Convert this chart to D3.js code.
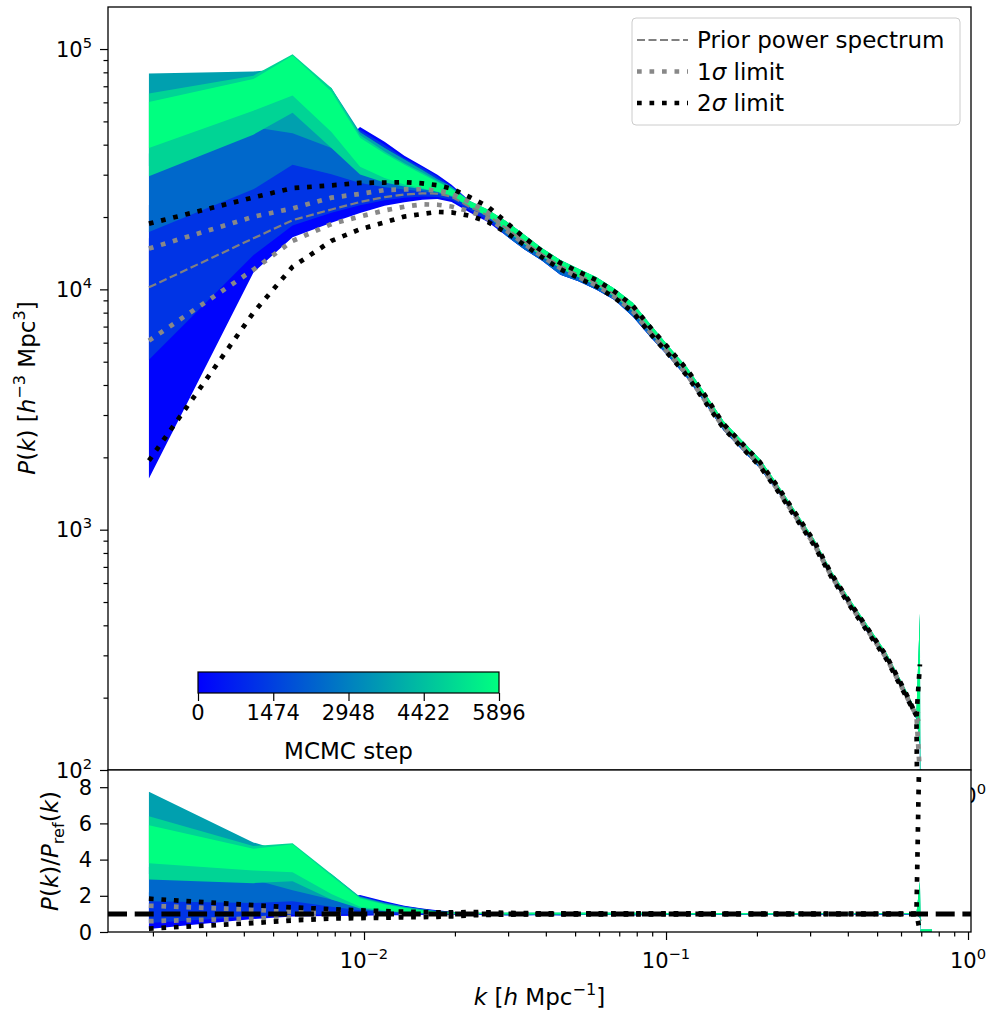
<!DOCTYPE html>
<html>
<head>
<meta charset="utf-8">
<script src="https://cdn.jsdelivr.net/npm/d3@7"></script>
<style>
  body { margin: 0; background: #fff; }
  svg text { font-family: "DejaVu Sans", sans-serif; fill: #000; }
</style>
</head>
<body>
<svg id="chart" width="987" height="1013"></svg>
<script>
// k bins [h/Mpc]
const kBins = [0.00194, 0.0043, 0.0058, 0.0078, 0.0097, 0.0117, 0.0136, 0.0156, 0.0175, 0.0195,
  0.0224, 0.0257, 0.0295, 0.0339, 0.0389, 0.0447, 0.0513, 0.0589, 0.0676, 0.0776,
  0.0891, 0.1023, 0.1175, 0.1349, 0.1549, 0.1778, 0.2042, 0.2344, 0.2692, 0.309,
  0.3548, 0.4074, 0.4677, 0.537, 0.6166, 0.675, 0.693, 0.697, 0.76];

// prior / reference power spectrum
const pRef = [10200, 16300, 19400, 21500, 23100, 24200, 24800, 25100, 25000, 24300,
  22000, 20300, 18000, 15800, 14000, 12500, 11500, 10600, 9500, 8300,
  6700, 5500, 4500, 3500, 2700, 2250, 1880, 1480, 1140, 880,
  640, 490, 380, 295, 212, 168, 160, 150, 140];

// 1 and 2 sigma limits, as ratio to the prior
const sig1Lo = [0.60, 0.74, 0.82, 0.87, 0.87, 0.88, 0.89, 0.90, 0.90, 0.91, 0.96, 0.97,
  0.98, 0.98, 0.98, 0.98, 0.98, 0.98, 0.98, 0.98, 0.98, 0.98, 0.98, 0.98,
  0.99, 0.99, 0.99, 0.99, 0.99, 0.99, 0.99, 0.99, 0.99, 0.99, 0.99, 1.0, 0.6, null, null];
const sig1Hi = [1.45, 1.23, 1.12, 1.12, 1.08, 1.07, 1.05, 1.04, 1.03, 1.03, 1.05, 1.03,
  1.02, 1.02, 1.02, 1.02, 1.02, 1.02, 1.02, 1.02, 1.02, 1.02, 1.02, 1.02,
  1.01, 1.01, 1.01, 1.01, 1.01, 1.01, 1.01, 1.01, 1.01, 1.01, 1.01, 1.0, 1.15, null, null];
const sig2Lo = [0.19, 0.49, 0.64, 0.74, 0.77, 0.785, 0.81, 0.82, 0.84, 0.86, 0.92, 0.94,
  0.96, 0.97, 0.97, 0.97, 0.97, 0.97, 0.97, 0.97, 0.97, 0.97, 0.97, 0.97,
  0.98, 0.98, 0.98, 0.98, 0.98, 0.98, 0.98, 0.98, 0.98, 0.98, 0.98, 1.0, 0.02, null, null];
const sig2Hi = [1.84, 1.48, 1.36, 1.26, 1.20, 1.15, 1.125, 1.10, 1.085, 1.08, 1.10, 1.09,
  1.06, 1.04, 1.03, 1.03, 1.03, 1.03, 1.03, 1.03, 1.03, 1.03, 1.03, 1.03,
  1.02, 1.02, 1.02, 1.02, 1.02, 1.02, 1.01, 1.01, 1.01, 1.01, 1.01, 1.0, 1.72, null, null];
// the ratio panel's upper 2 sigma limit shoots off the top at the spike bin
const sig2HiRatio = [1.84, 1.48, 1.36, 1.26, 1.20, 1.15, 1.125, 1.10, 1.085, 1.08, 1.10, 1.09,
  1.06, 1.04, 1.03, 1.03, 1.03, 1.03, 1.03, 1.03, 1.03, 1.03, 1.03, 1.03,
  1.02, 1.02, 1.02, 1.02, 1.02, 1.02, 1.01, 1.01, 1.01, 1.01, 1.01, 1.0, 12, null, null];

// MCMC samples, grouped by step; low-k envelopes (bins 0..11) as ratio to the prior
const stepGroups = [100, 1200, 2400, 3700, 4900, 5896];
const bandLo = [
  [0.16, 0.72, 0.85, 0.88, 0.90, 0.92, 0.93, 0.94, 0.95, 0.95, 0.95, 0.94],
  [0.50, 0.85, 0.95, 0.97, 0.97, 0.97, 0.97, 0.97, 0.97, 0.97, 0.97, 0.96],
  [1.70, 1.60, 1.70, 1.40, 1.20, 1.10, 1.05, 1.02, 1.00, 1.00, 1.00, 1.00],
  [3.20, 2.90, 2.30, 1.80, 1.40, 1.20, 1.10, 1.05, 1.02, 1.00, 1.00, 1.00],
  [2.90, 2.70, 2.80, 1.80, 1.30, 1.15, 1.08, 1.04, 1.02, 1.01, 1.00, 0.99],
  [3.80, 3.40, 3.30, 2.10, 1.40, 1.20, 1.10, 1.05, 1.02, 1.01, 1.00, 0.99],
];
const bandHi = [
  [1.60, 1.70, 1.70, 1.70, 2.05, 1.70, 1.45, 1.30, 1.20, 1.12, 1.06, 1.03],
  [2.20, 2.30, 2.20, 2.00, 2.00, 1.65, 1.42, 1.28, 1.18, 1.10, 1.05, 1.03],
  [3.60, 3.20, 2.90, 2.40, 1.95, 1.60, 1.40, 1.25, 1.15, 1.10, 1.05, 1.04],
  [7.75, 4.95, 4.30, 3.20, 1.95, 1.60, 1.40, 1.25, 1.15, 1.10, 1.06, 1.05],
  [6.40, 4.75, 4.90, 3.20, 1.90, 1.55, 1.35, 1.22, 1.13, 1.08, 1.06, 1.06],
  [5.90, 4.60, 4.85, 3.10, 1.85, 1.52, 1.33, 1.20, 1.12, 1.08, 1.06, 1.06],
];
// high-k envelopes (bins 12..38)
const blueTailLo = [0.93, 0.93, 0.94, 0.92, 0.94, 0.94, 0.95, 0.93, 0.94, 0.95, 0.95,
  0.96, 0.96, 0.96, 0.96, 0.97, 0.97, 0.97, 0.97, 0.97, 0.97, 0.97, 0.97, 0.97, 0.8, 0.03, 0.03];
const blueTailHi = [1.02, 1.02, 1.01, 1.01, 1.01, 1.01, 1.01, 1.01, 1.01, 1.01, 1.01,
  1.01, 1.01, 1.01, 1.01, 1.01, 1.01, 1.01, 1.01, 1.01, 1.01, 1.01, 1.01, 1.01, 1.3, 0.08, 0.08];
const greenTailLo = [0.98, 0.98, 0.98, 0.98, 0.98, 0.98, 0.98, 0.98, 0.98, 0.98, 0.98,
  0.98, 0.98, 0.98, 0.98, 0.98, 0.98, 0.99, 0.99, 0.99, 0.99, 0.99, 0.99, 0.98, 0.8, 0.03, 0.03];
const greenTailHi = [1.07, 1.07, 1.06, 1.06, 1.06, 1.06, 1.06, 1.06, 1.06, 1.05, 1.05,
  1.05, 1.05, 1.05, 1.05, 1.04, 1.04, 1.04, 1.04, 1.04, 1.04, 1.04, 1.04, 1.04, 2.8, 0.14, 0.14];

const cbarTicks = [0, 1474, 2948, 4422, 5896];
const xMajor = [0.01, 0.1, 1];
const xMinor = [0.002, 0.003, 0.004, 0.005, 0.006, 0.007, 0.008, 0.009,
  0.02, 0.03, 0.04, 0.05, 0.06, 0.07, 0.08, 0.09, 0.2, 0.3, 0.4, 0.5, 0.6, 0.7, 0.8, 0.9];
const yMajor = [100, 1000, 10000, 100000];
const yMinor = [200, 300, 400, 500, 600, 700, 800, 900, 2000, 3000, 4000, 5000, 6000, 7000,
  8000, 9000, 20000, 30000, 40000, 50000, 60000, 70000, 80000, 90000];
const ratioTicks = [0, 2, 4, 6, 8];

const svg = d3.select("#chart");
const left = 108, right = 971;
const top0 = 7, top1 = 770, bot0 = 770, bot1 = 932;
const stepMax = 5896;
const tickFont = 21, labelFont = 23;
const winter = d3.interpolateRgb("#0000ff", "#00ff80");

const x = d3.scaleLog().domain([0.00142, 1.023]).range([left, right]);
const yTop = d3.scaleLog().domain([100, 149600]).range([top1, top0]);
const yBot = d3.scaleLinear().domain([0, 8.95]).range([bot1, bot0]);

const styles = {
  prior: { stroke: "#808080", width: 2.2, dash: "8,3.5" },
  sig1: { stroke: "#888888", width: 4.7, dash: "4.7,7.8" },
  sig2: { stroke: "#000000", width: 4.7, dash: "4.7,7.8" },
};

function mathText(sel, parts, fs) {
  let shift = 0;
  for (const [txt, kind] of parts) {
    const t = sel.append("tspan").text(txt);
    let target = 0;
    if (kind === "sup") target = -0.42 * fs;
    if (kind === "sub") target = 0.25 * fs;
    if (kind === "sup" || kind === "sub") t.attr("font-size", 0.7 * fs);
    if (kind === "i") t.attr("font-style", "italic");
    if (target !== shift) t.attr("dy", target - shift);
    shift = target;
  }
}

function powLabel(g, px, py, exp, anchor) {
  const t = g.append("text").attr("x", px).attr("y", py)
    .attr("text-anchor", anchor).attr("font-size", tickFont);
  mathText(t, [["10", ""], [exp < 0 ? `\u2212${-exp}` : `${exp}`, "sup"]], tickFont);
}

const bands = stepGroups.map((step, g) => {
  const early = step < 3000;
  const lo = bandLo[g].concat(early ? blueTailLo : greenTailLo);
  const hi = bandHi[g].concat(early ? blueTailHi : greenTailHi);
  return {
    step,
    rows: kBins.map((k, i) => ({ k, ref: pRef[i], lo: lo[i], hi: hi[i] })),
  };
});

function limitRows(arr) {
  return kBins.map((k, i) => ({ k, ref: pRef[i], r: arr[i] }));
}

const defs = svg.append("defs");
defs.append("clipPath").attr("id", "clipTop").append("rect")
  .attr("x", left).attr("y", top0).attr("width", right - left).attr("height", top1 - top0);
defs.append("clipPath").attr("id", "clipBot").append("rect")
  .attr("x", left).attr("y", bot0).attr("width", right - left).attr("height", bot1 - bot0);

// ---------- top panel ----------
const topPlot = svg.append("g").attr("clip-path", "url(#clipTop)");

const areaTop = d3.area()
  .x((d) => x(d.k))
  .y0((d) => yTop(d.ref * d.lo))
  .y1((d) => yTop(d.ref * d.hi));

topPlot.selectAll("path.band")
  .data(bands)
  .join("path")
  .attr("class", "band")
  .attr("d", (d) => areaTop(d.rows))
  .attr("fill", (d) => winter(d.step / stepMax));

const lineTop = d3.line()
  .defined((d) => d.r != null)
  .x((d) => x(d.k))
  .y((d) => yTop(d.ref * d.r));

const priorRows = kBins.slice(0, 37).map((k, i) => ({ k, ref: pRef[i], r: 1 }));
const topLines = [
  { rows: priorRows, s: styles.prior },
  { rows: limitRows(sig1Lo), s: styles.sig1 },
  { rows: limitRows(sig1Hi), s: styles.sig1 },
  { rows: limitRows(sig2Lo), s: styles.sig2 },
  { rows: limitRows(sig2Hi), s: styles.sig2 },
];
topPlot.selectAll("path.lim")
  .data(topLines)
  .join("path")
  .attr("class", "lim")
  .attr("d", (d) => lineTop(d.rows))
  .attr("fill", "none")
  .attr("stroke", (d) => d.s.stroke)
  .attr("stroke-width", (d) => d.s.width)
  .attr("stroke-dasharray", (d) => d.s.dash);

// top axes
svg.append("g").attr("transform", `translate(${left},0)`)
  .call(d3.axisLeft(yTop).tickValues(yMajor).tickSize(8).tickFormat(""))
  .call((g) => g.select(".domain").remove());
svg.append("g").attr("transform", `translate(${left},0)`)
  .call(d3.axisLeft(yTop).tickValues(yMinor).tickSize(4.5).tickFormat(""))
  .call((g) => g.select(".domain").remove());
const topLabels = svg.append("g");
yMajor.forEach((v) => powLabel(topLabels, 92, yTop(v) + 7.5, Math.round(Math.log10(v)), "end"));

// top panel x ticks (mostly hidden under the ratio panel)
svg.append("g").attr("transform", `translate(0,${top1})`)
  .call(d3.axisBottom(x).tickValues(xMajor).tickSize(8).tickFormat(""))
  .call((g) => g.select(".domain").remove());
xMajor.forEach((v) => powLabel(topLabels, x(v), top1 + 33, Math.round(Math.log10(v)), "middle"));

svg.append("rect").attr("x", left).attr("y", top0)
  .attr("width", right - left).attr("height", top1 - top0)
  .attr("fill", "none").attr("stroke", "#000").attr("stroke-width", 1.3);

// legend
const legendItems = [
  { parts: [["Prior power spectrum", ""]], s: styles.prior },
  { parts: [["1", ""], ["\u03c3", "i"], [" limit", ""]], s: styles.sig1 },
  { parts: [["2", ""], ["\u03c3", "i"], [" limit", ""]], s: styles.sig2 },
];
const legend = svg.append("g");
legend.append("rect").attr("x", 632).attr("y", 18).attr("width", 328).attr("height", 107)
  .attr("rx", 4).attr("fill", "#fff").attr("fill-opacity", 0.8)
  .attr("stroke", "#cccccc").attr("stroke-width", 1);
legendItems.forEach((item, i) => {
  const cy = 40 + i * 31.5;
  legend.append("line").attr("x1", 637).attr("x2", 688).attr("y1", cy).attr("y2", cy)
    .attr("stroke", item.s.stroke).attr("stroke-width", item.s.width)
    .attr("stroke-dasharray", item.s.dash);
  const t = legend.append("text").attr("x", 697).attr("y", cy + 8).attr("font-size", labelFont);
  mathText(t, item.parts, labelFont);
});

// colour bar
const cb = { x0: 198, x1: 499, y0: 672, y1: 693 };
const grad = defs.append("linearGradient").attr("id", "winterGrad");
d3.range(0, 1.01, 0.1).forEach((t) => {
  grad.append("stop").attr("offset", `${t * 100}%`).attr("stop-color", winter(t));
});
const cbScale = d3.scaleLinear().domain([0, stepMax]).range([cb.x0, cb.x1]);
svg.append("rect").attr("x", cb.x0).attr("y", cb.y0)
  .attr("width", cb.x1 - cb.x0).attr("height", cb.y1 - cb.y0)
  .attr("fill", "url(#winterGrad)").attr("stroke", "#000").attr("stroke-width", 1.2);
svg.append("g").attr("transform", `translate(0,${cb.y1})`)
  .call(d3.axisBottom(cbScale).tickValues(cbarTicks).tickSize(8).tickFormat(""))
  .call((g) => g.select(".domain").remove());
cbarTicks.forEach((v) => {
  svg.append("text").attr("x", cbScale(v)).attr("y", 720)
    .attr("text-anchor", "middle").attr("font-size", tickFont).text(v);
});
svg.append("text").attr("x", (cb.x0 + cb.x1) / 2).attr("y", 759)
  .attr("text-anchor", "middle").attr("font-size", labelFont).text("MCMC step");

// ---------- ratio panel ----------
svg.append("rect").attr("x", left).attr("y", bot0)
  .attr("width", right - left).attr("height", bot1 - bot0).attr("fill", "#fff");
const botPlot = svg.append("g").attr("clip-path", "url(#clipBot)");

const areaBot = d3.area()
  .x((d) => x(d.k))
  .y0((d) => yBot(d.lo))
  .y1((d) => yBot(d.hi));
botPlot.selectAll("path.band")
  .data(bands)
  .join("path")
  .attr("class", "band")
  .attr("d", (d) => areaBot(d.rows))
  .attr("fill", (d) => winter(d.step / stepMax));

const lineBot = d3.line()
  .defined((d) => d.r != null)
  .x((d) => x(d.k))
  .y((d) => yBot(d.r));
const botLines = [
  { rows: limitRows(sig1Lo), s: styles.sig1 },
  { rows: limitRows(sig1Hi), s: styles.sig1 },
  { rows: limitRows(sig2Lo), s: styles.sig2 },
  { rows: limitRows(sig2HiRatio), s: styles.sig2 },
];
botPlot.selectAll("path.lim")
  .data(botLines)
  .join("path")
  .attr("class", "lim")
  .attr("d", (d) => lineBot(d.rows))
  .attr("fill", "none")
  .attr("stroke", (d) => d.s.stroke)
  .attr("stroke-width", (d) => d.s.width)
  .attr("stroke-dasharray", (d) => d.s.dash);

botPlot.append("line")
  .attr("x1", left).attr("x2", right).attr("y1", yBot(1)).attr("y2", yBot(1))
  .attr("stroke", "#000").attr("stroke-width", 5).attr("stroke-dasharray", "19,7.7");

svg.append("g").attr("transform", `translate(${left},0)`)
  .call(d3.axisLeft(yBot).tickValues(ratioTicks).tickSize(8).tickFormat(""))
  .call((g) => g.select(".domain").remove());
ratioTicks.forEach((v) => {
  svg.append("text").attr("x", 92).attr("y", yBot(v) + 7.5)
    .attr("text-anchor", "end").attr("font-size", tickFont).text(v);
});
svg.append("g").attr("transform", `translate(0,${bot1})`)
  .call(d3.axisBottom(x).tickValues(xMajor).tickSize(8).tickFormat(""))
  .call((g) => g.select(".domain").remove());
svg.append("g").attr("transform", `translate(0,${bot1})`)
  .call(d3.axisBottom(x).tickValues(xMinor).tickSize(4.5).tickFormat(""))
  .call((g) => g.select(".domain").remove());
const botLabels = svg.append("g");
xMajor.forEach((v) => powLabel(botLabels, x(v), bot1 + 36, Math.round(Math.log10(v)), "middle"));

svg.append("rect").attr("x", left).attr("y", bot0)
  .attr("width", right - left).attr("height", bot1 - bot0)
  .attr("fill", "none").attr("stroke", "#000").attr("stroke-width", 1.3);

svg.selectAll(".tick line").attr("stroke", "#000").attr("stroke-width", 1.2);

// axis titles
const yTitle = svg.append("text").attr("transform", "translate(35,388) rotate(-90)")
  .attr("text-anchor", "middle").attr("font-size", labelFont);
mathText(yTitle, [["P", "i"], ["(", ""], ["k", "i"], [") [", ""], ["h", "i"], ["\u22123", "sup"],
  [" Mpc", ""], ["3", "sup"], ["]", ""]], labelFont);

const rTitle = svg.append("text").attr("transform", "translate(58,851) rotate(-90)")
  .attr("text-anchor", "middle").attr("font-size", labelFont);
mathText(rTitle, [["P", "i"], ["(", ""], ["k", "i"], [")/", ""], ["P", "i"], ["ref", "sub"],
  ["(", ""], ["k", "i"], [")", ""]], labelFont);

const xTitle = svg.append("text").attr("x", (left + right) / 2).attr("y", 1005)
  .attr("text-anchor", "middle").attr("font-size", labelFont);
mathText(xTitle, [["k", "i"], [" [", ""], ["h", "i"], [" Mpc", ""], ["\u22121", "sup"], ["]", ""]], labelFont);
</script>
</body>
</html>
